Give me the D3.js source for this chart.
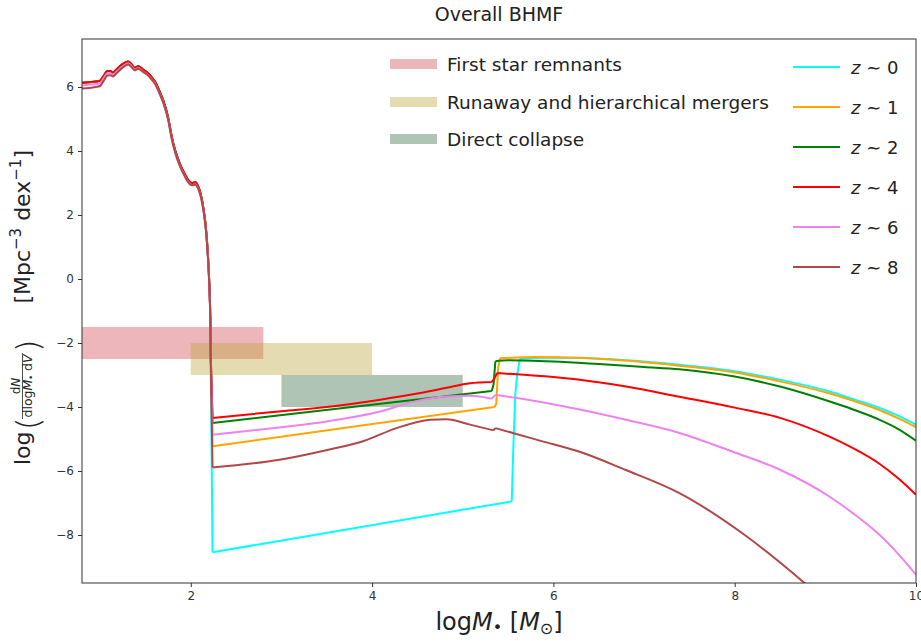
<!DOCTYPE html>
<html>
<head>
<meta charset="utf-8">
<script src="https://cdn.jsdelivr.net/npm/d3@7"></script>
<style>
  html, body { margin: 0; padding: 0; background: #fff; }
  svg { display: block; font-family: "DejaVu Sans", sans-serif; }
</style>
</head>
<body>
<svg id="chart" width="921" height="641"></svg>
<script>
// ---------------- data ----------------
const xTicks = [2, 4, 6, 8, 10];
const yTicks = [-8, -6, -4, -2, 0, 2, 4, 6];

// shaded seed-formation regions
const regionNames = ["First star remnants", "Runaway and hierarchical mergers", "Direct collapse"];
const regionColors = ["#d4505c", "#bea63c", "#2f643c"];
const regionOpacity = [0.42, 0.4, 0.38];
const regionX0 = [0.5, 2, 3];
const regionX1 = [2.8, 4, 5];
const regionY0 = [-2.5, -3, -4];
const regionY1 = [-1.5, -2, -3];

// stellar-mass part (shared abscissa)
const stellarLogM = [0.80, 0.88, 0.95, 1.00, 1.04, 1.08, 1.11, 1.14, 1.18, 1.24, 1.31, 1.35, 1.38, 1.42, 1.47, 1.52, 1.57, 1.61, 1.65, 1.70, 1.75, 1.79, 1.83, 1.88, 1.93, 1.97, 2.01, 2.05, 2.08, 2.11, 2.14, 2.17, 2.19, 2.205, 2.215, 2.22];
const stellarLowZ = [6.13, 6.15, 6.17, 6.20, 6.35, 6.50, 6.50, 6.45, 6.55, 6.70, 6.80, 6.70, 6.60, 6.65, 6.55, 6.45, 6.30, 6.15, 5.90, 5.55, 5.05, 4.45, 4.00, 3.60, 3.30, 3.10, 3.00, 3.02, 2.90, 2.65, 2.20, 1.50, 0.70, -0.20, -1.20, -2.40];
const stellarZ6 = [6.05, 6.07, 6.09, 6.12, 6.28, 6.43, 6.43, 6.38, 6.48, 6.63, 6.74, 6.64, 6.54, 6.59, 6.49, 6.39, 6.24, 6.09, 5.84, 5.49, 4.99, 4.39, 3.94, 3.54, 3.24, 3.04, 2.94, 2.96, 2.84, 2.59, 2.14, 1.44, 0.64, -0.26, -1.26, -2.46];
const stellarZ8 = [5.95, 5.97, 6.00, 6.03, 6.20, 6.36, 6.37, 6.33, 6.43, 6.59, 6.70, 6.61, 6.52, 6.57, 6.48, 6.38, 6.23, 6.08, 5.83, 5.48, 4.98, 4.38, 3.93, 3.53, 3.23, 3.03, 2.93, 2.95, 2.83, 2.58, 2.13, 1.43, 0.63, -0.27, -1.27, -2.47];

// black-hole part, one per redshift
const bhLogM_z0 = [2.24, 5.54, 5.56, 5.58, 5.60, 5.63, 5.90, 6.29, 6.80, 7.39, 8.00, 8.50, 9.04, 9.30, 9.60, 9.80, 10.0];
const bhPhi_z0  = [-8.54, -6.95, -5.10, -3.60, -3.00, -2.50, -2.46, -2.47, -2.54, -2.68, -2.88, -3.15, -3.51, -3.75, -4.03, -4.27, -4.55];
const bhLogM_z1 = [2.24, 5.35, 5.37, 5.39, 5.41, 5.80, 6.29, 6.80, 7.39, 8.00, 8.50, 9.04, 9.30, 9.60, 9.80, 10.0];
const bhPhi_z1  = [-5.23, -4.00, -3.90, -2.80, -2.48, -2.44, -2.46, -2.55, -2.71, -2.92, -3.20, -3.57, -3.80, -4.10, -4.35, -4.63];
const bhLogM_z2 = [2.24, 5.32, 5.34, 5.36, 5.50, 6.00, 6.50, 7.00, 7.39, 8.00, 8.50, 9.04, 9.30, 9.60, 9.80, 10.0];
const bhPhi_z2  = [-4.50, -3.50, -3.30, -2.57, -2.54, -2.58, -2.66, -2.75, -2.82, -3.05, -3.36, -3.82, -4.07, -4.40, -4.68, -5.05];
const bhLogM_z4 = [2.24, 3.00, 3.50, 4.09, 4.50, 4.82, 5.08, 5.32, 5.35, 5.38, 5.60, 6.29, 6.80, 7.39, 8.00, 8.50, 9.04, 9.30, 9.60, 9.80, 10.0];
const bhPhi_z4  = [-4.34, -4.13, -4.00, -3.77, -3.58, -3.40, -3.26, -3.22, -3.10, -2.94, -2.98, -3.15, -3.36, -3.68, -4.02, -4.34, -4.92, -5.28, -5.78, -6.22, -6.74];
const bhLogM_z6 = [2.24, 3.00, 3.50, 4.09, 4.45, 4.82, 5.08, 5.32, 5.36, 5.60, 6.29, 6.80, 7.39, 8.00, 8.50, 9.04, 9.30, 9.60, 9.80, 10.0];
const bhPhi_z6  = [-4.87, -4.63, -4.45, -4.14, -3.84, -3.67, -3.65, -3.74, -3.62, -3.72, -4.08, -4.40, -4.81, -5.42, -5.96, -6.79, -7.31, -8.00, -8.58, -9.24];
const bhLogM_z8 = [2.24, 2.98, 3.53, 3.90, 4.27, 4.64, 4.82, 5.08, 5.34, 5.36, 5.60, 5.85, 6.29, 6.80, 7.39, 8.13, 8.75, 8.80];
const bhPhi_z8  = [-5.89, -5.65, -5.33, -5.07, -4.66, -4.40, -4.38, -4.55, -4.73, -4.66, -4.85, -5.05, -5.40, -5.97, -6.69, -8.04, -9.45, -9.57];

// where each curve has sharp steps: [end of stellar part, start of BH part, foot of jump, top of jump]
const breaks_z0 = [2.22, 2.24, 5.54, 5.63];
const breaks_z1 = [2.22, 2.24, 5.35, 5.41];
const breaks_z2 = [2.22, 2.24, 5.32, 5.36];
const breaks_z4 = [2.22, 2.24, 5.32, 5.38];
const breaks_z6 = [2.22, 2.24, 5.32, 5.36];
const breaks_z8 = [2.22, 2.24, 5.34, 5.36];

const zLabels = ["0", "1", "2", "4", "6", "8"];
const zColors = ["#00ffff", "#ffa500", "#008000", "#ff0000", "#ee82ee", "#b04848"];

const series = [
  { z: zLabels[0], color: zColors[0], x: stellarLogM.concat(bhLogM_z0), y: stellarLowZ.concat(bhPhi_z0), breaks: breaks_z0 },
  { z: zLabels[1], color: zColors[1], x: stellarLogM.concat(bhLogM_z1), y: stellarLowZ.concat(bhPhi_z1), breaks: breaks_z1 },
  { z: zLabels[2], color: zColors[2], x: stellarLogM.concat(bhLogM_z2), y: stellarLowZ.concat(bhPhi_z2), breaks: breaks_z2 },
  { z: zLabels[3], color: zColors[3], x: stellarLogM.concat(bhLogM_z4), y: stellarLowZ.concat(bhPhi_z4), breaks: breaks_z4 },
  { z: zLabels[4], color: zColors[4], x: stellarLogM.concat(bhLogM_z6), y: stellarZ6.concat(bhPhi_z6), breaks: breaks_z6 },
  { z: zLabels[5], color: zColors[5], x: stellarLogM.concat(bhLogM_z8), y: stellarZ8.concat(bhPhi_z8), breaks: breaks_z8 }
];

// ---------------- drawing ----------------
const svg = d3.select("#chart");
const plot = { left: 82, right: 916, top: 39, bottom: 583 };

const x = d3.scaleLinear().domain([0.8, 10]).range([plot.left, plot.right]);
const y = d3.scaleLinear().domain([-9.5, 7.5]).range([plot.bottom, plot.top]);

svg.append("defs").append("clipPath").attr("id", "clip")
  .append("rect")
  .attr("x", plot.left).attr("y", plot.top)
  .attr("width", plot.right - plot.left).attr("height", plot.bottom - plot.top);

const body = svg.append("g").attr("clip-path", "url(#clip)");

// regions
body.selectAll("rect.region")
  .data(regionNames)
  .join("rect")
  .attr("class", "region")
  .attr("x", (d, i) => x(regionX0[i]))
  .attr("width", (d, i) => x(regionX1[i]) - x(regionX0[i]))
  .attr("y", (d, i) => y(regionY1[i]))
  .attr("height", (d, i) => y(regionY0[i]) - y(regionY1[i]))
  .attr("fill", (d, i) => regionColors[i])
  .attr("fill-opacity", (d, i) => regionOpacity[i]);

// lines: smooth pieces joined by straight steps
const smooth = d3.line().x(d => x(d[0])).y(d => y(d[1])).curve(d3.curveMonotoneX);
const straight = d3.line().x(d => x(d[0])).y(d => y(d[1]));
function seriesPath(s) {
  const pts = s.x.map((v, i) => [v, s.y[i]]);
  const edges = [-Infinity].concat(s.breaks, [Infinity]);
  let d = "";
  for (let k = 0; k < edges.length - 1; k++) {
    const seg = pts.filter(p => p[0] >= edges[k] && p[0] <= edges[k + 1]);
    if (seg.length < 2) continue;
    const gen = (k % 2 === 0) ? smooth : straight;
    d += gen(seg);
  }
  return d;
}
body.selectAll("path.series")
  .data(series)
  .join("path")
  .attr("class", "series")
  .attr("d", seriesPath)
  .attr("fill", "none")
  .attr("stroke", s => s.color)
  .attr("stroke-width", 2)
  .attr("stroke-linejoin", "round");

// axes
const axisColor = "#333";
const xAxis = svg.append("g")
  .attr("transform", `translate(0,${plot.bottom})`)
  .call(d3.axisBottom(x).tickValues(xTicks).tickSize(4).tickPadding(4).tickFormat(d3.format("d")));
const yAxis = svg.append("g")
  .attr("transform", `translate(${plot.left},0)`)
  .call(d3.axisLeft(y).tickValues(yTicks).tickSize(4).tickPadding(4).tickFormat(d3.format("d")));
[xAxis, yAxis].forEach(a => {
  a.select(".domain").remove();
  a.selectAll(".tick line").attr("stroke", axisColor);
  a.selectAll(".tick text").attr("fill", "#333").style("font-size", "12px").style("font-family", "DejaVu Sans");
});

// frame
svg.append("rect")
  .attr("x", plot.left).attr("y", plot.top)
  .attr("width", plot.right - plot.left).attr("height", plot.bottom - plot.top)
  .attr("fill", "none").attr("stroke", axisColor).attr("stroke-width", 1);

// title
svg.append("text")
  .attr("x", (plot.left + plot.right) / 2).attr("y", 21)
  .attr("text-anchor", "middle")
  .attr("fill", "#222")
  .style("font-size", "19px")
  .text("Overall BHMF");

// x label
const xl = svg.append("text")
  .attr("x", (plot.left + plot.right) / 2).attr("y", 630)
  .attr("text-anchor", "middle").attr("fill", "#222")
  .style("font-size", "24px");
xl.append("tspan").text("log");
xl.append("tspan").style("font-style", "italic").text("M");
xl.append("tspan").attr("dy", 3).style("font-size", "16px").text("•");
xl.append("tspan").attr("dy", -3).text(" [");
xl.append("tspan").style("font-style", "italic").text("M");
xl.append("tspan").attr("dy", 4).style("font-size", "16px").text("⊙");
xl.append("tspan").attr("dy", -4).text("]");

// y label (rotated group: local x runs upward, local y = screen x offset)
const yl = svg.append("g").attr("transform", "translate(30,465) rotate(-90)").attr("fill", "#222");
yl.append("text").attr("x", 0).attr("y", 0).style("font-size", "22px").text("log");
yl.append("text").attr("x", 35).attr("y", 9).style("font-size", "32px").style("font-weight", "200").text("(");
yl.append("text").attr("x", 79).attr("y", -10).attr("text-anchor", "middle").style("font-size", "12px")
  .call(t => { t.append("tspan").text("d"); t.append("tspan").style("font-style", "italic").text("N"); });
yl.append("line").attr("x1", 46).attr("x2", 112).attr("y1", -7.5).attr("y2", -7.5).attr("stroke", "#222").attr("stroke-width", 0.8);
yl.append("text").attr("x", 79).attr("y", 2).attr("text-anchor", "middle").style("font-size", "12.5px")
  .call(t => {
    t.append("tspan").text("dlog");
    t.append("tspan").style("font-style", "italic").text("M");
    t.append("tspan").style("font-size", "8px").attr("dy", 2).text("•");
    t.append("tspan").attr("dy", -2).text(" d");
    t.append("tspan").style("font-style", "italic").text("V");
  });
yl.append("text").attr("x", 113).attr("y", 9).style("font-size", "32px").style("font-weight", "200").text(")");
const unit = yl.append("text").attr("x", 315).attr("y", 0).attr("text-anchor", "end").style("font-size", "22px");
unit.append("tspan").text("[Mpc");
unit.append("tspan").attr("dy", -9).style("font-size", "15px").text("−3");
unit.append("tspan").attr("dy", 9).text(" dex");
unit.append("tspan").attr("dy", -9).style("font-size", "15px").text("−1");
unit.append("tspan").attr("dy", 9).text("]");

// legend: regions
const lg1 = svg.append("g");
const lg1Y = [64, 102, 139];
regionNames.forEach((name, i) => {
  lg1.append("rect").attr("x", 390).attr("y", lg1Y[i] - 5).attr("width", 47).attr("height", 10)
    .attr("fill", regionColors[i]).attr("fill-opacity", regionOpacity[i]);
  lg1.append("text").attr("x", 447).attr("y", lg1Y[i] + 7).attr("fill", "#222")
    .style("font-size", "18.5px").text(name);
});

// legend: redshifts
const lg2 = svg.append("g");
series.forEach((s, i) => {
  const ly = 67 + i * 40;
  lg2.append("line").attr("x1", 793).attr("x2", 840).attr("y1", ly).attr("y2", ly)
    .attr("stroke", s.color).attr("stroke-width", 2);
  const t = lg2.append("text").attr("x", 851).attr("y", ly + 7).attr("fill", "#222").style("font-size", "18px");
  t.append("tspan").style("font-style", "italic").text("z");
  t.append("tspan").text(" ∼ " + s.z);
});
</script>
</body>
</html>
